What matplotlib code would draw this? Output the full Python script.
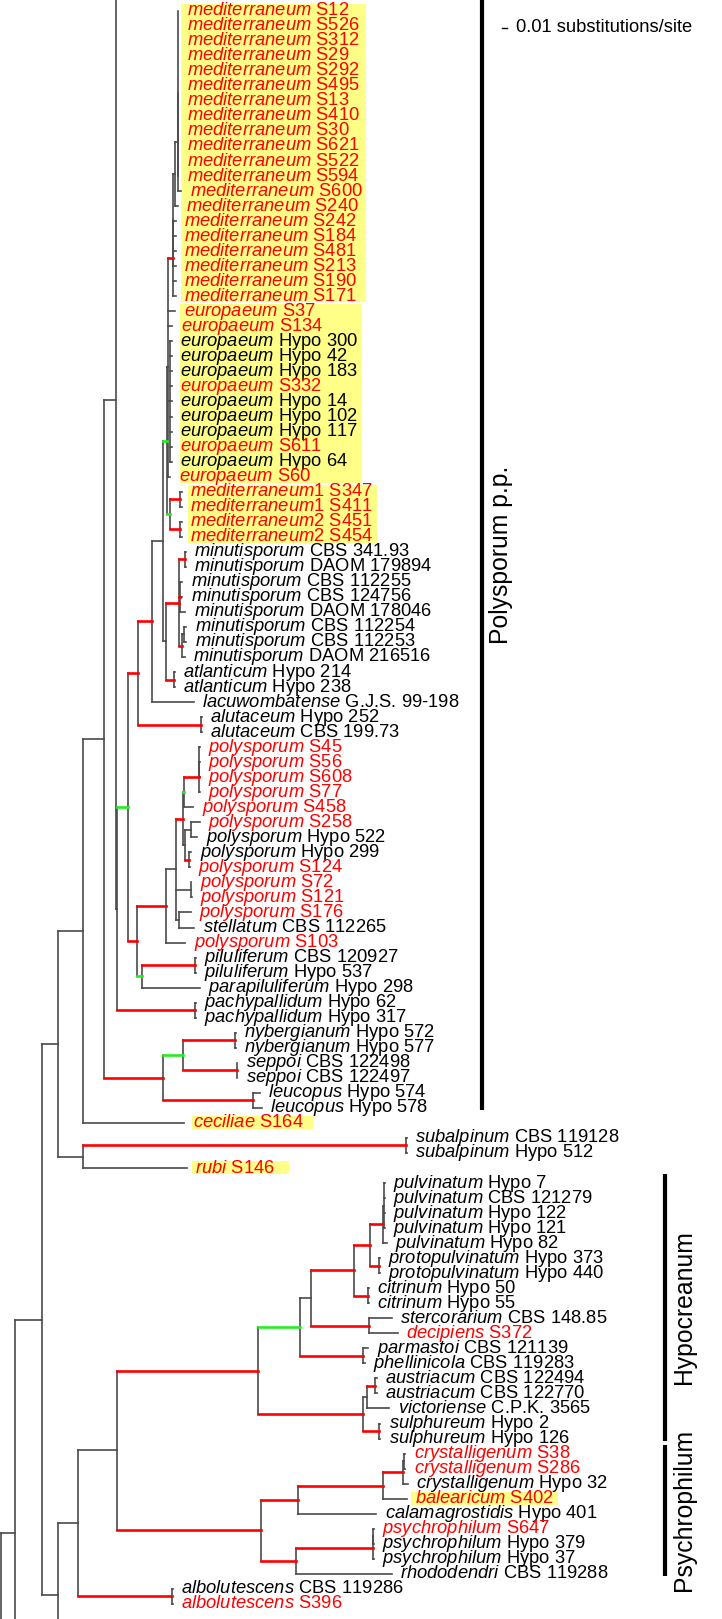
import re
import matplotlib
matplotlib.use("Agg")
import matplotlib.pyplot as plt
from matplotlib.collections import LineCollection
from matplotlib.patches import Rectangle

plt.rcParams["font.family"] = ["Liberation Sans", "DejaVu Sans"]
plt.rcParams["mathtext.fontset"] = "custom"
plt.rcParams["mathtext.rm"] = "Liberation Sans"
plt.rcParams["mathtext.it"] = "Liberation Sans:italic"

# --- leaves, top to bottom ---
SPECIES = (["mediterraneum"] * 20 + ["europaeum"] * 12 + ["mediterraneum1"] * 2
           + ["mediterraneum2"] * 2 + ["minutisporum"] * 8 + ["atlanticum"] * 2
           + ["lacuwombatense"] + ["alutaceum"] * 2 + ["polysporum"] * 12
           + ["stellatum", "polysporum"] + ["piluliferum"] * 2 + ["parapiluliferum"]
           + ["pachypallidum"] * 2 + ["nybergianum"] * 2 + ["seppoi"] * 2
           + ["leucopus"] * 2 + ["ceciliae"] + ["subalpinum"] * 2 + ["rubi"]
           + ["pulvinatum"] * 5 + ["protopulvinatum"] * 2 + ["citrinum"] * 2
           + ["stercorarium", "decipiens", "parmastoi", "phellinicola"]
           + ["austriacum"] * 2 + ["victoriense"] + ["sulphureum"] * 2
           + ["crystalligenum"] * 3 + ["balearicum", "calamagrostidis"]
           + ["psychrophilum"] * 3 + ["rhododendri"] + ["albolutescens"] * 2)

STRAINS = ["S12", "S526", "S312", "S29", "S292", "S495", "S13", "S410", "S30", "S621",
           "S522", "S594", "S600", "S240", "S242", "S184", "S481", "S213", "S190", "S171",
           "S37", "S134", "Hypo 300", "Hypo 42", "Hypo 183", "S332", "Hypo 14", "Hypo 102",
           "Hypo 117", "S611", "Hypo 64", "S60",
           "S347", "S411", "S451", "S454",
           "CBS 341.93", "DAOM 179894", "CBS 112255", "CBS 124756", "DAOM 178046",
           "CBS 112254", "CBS 112253", "DAOM 216516",
           "Hypo 214", "Hypo 238", "G.J.S. 99-198", "Hypo 252", "CBS 199.73",
           "S45", "S56", "S608", "S77", "S458", "S258", "Hypo 522", "Hypo 299", "S124",
           "S72", "S121", "S176", "CBS 112265", "S103",
           "CBS 120927", "Hypo 537", "Hypo 298", "Hypo 62", "Hypo 317", "Hypo 572",
           "Hypo 577", "CBS 122498", "CBS 122497", "Hypo 574", "Hypo 578", "S164",
           "CBS 119128", "Hypo 512", "S146",
           "Hypo 7", "CBS 121279", "Hypo 122", "Hypo 121", "Hypo 82", "Hypo 373",
           "Hypo 440", "Hypo 50", "Hypo 55", "CBS 148.85", "S372", "CBS 121139",
           "CBS 119283", "CBS 122494", "CBS 122770", "C.P.K. 3565", "Hypo 2", "Hypo 126",
           "S38", "S286", "Hypo 32", "S402", "Hypo 401", "S647", "Hypo 379", "Hypo 37",
           "CBS 119288", "CBS 119286", "S396"]

# --- internal branches: parent, child, length (1 unit = 0.002 subst./site), support colour ---
BRANCHES = [
    ("R", "A1", 14.5, "k"), ("R", "out3", 20, "k"),
    ("A1", "A2", 26.7, "k"), ("A1", "out2", 20, "k"),
    ("A2", "B1", 16.6, "k"), ("A2", "C1", 16.6, "k"),
    ("C1", "D1", 20, "k"), ("C1", "out1", 20, "k"),
    ("D1", "E1", 38.4, "k"), ("D1", "albo", 93.4, "r"),
    ("E1", "H1", 141.6, "r"), ("E1", "P1", 144.3, "r"),
    ("H1", "H2", 41.7, "g"), ("H1", "H3", 104.4, "r"),
    ("H2", "H4", 10.7, "k"), ("H2", "pp", 62.7, "r"),
    ("H4", "H5", 43.3, "r"), ("H4", "sd", 58, "r"),
    ("H5", "H6", 16, "r"), ("H5", "cit", 14.3, "r"),
    ("H6", "Q", 12.7, "r"), ("H6", "proto", 9.3, "r"),
    ("Q", "Q2", 0.8, "k"),
    ("H3", "AV", 4, "k"), ("H3", "sulph", 16.6, "r"),
    ("AV", "aus", 8.6, "r"),
    ("P1", "P2", 37.3, "r"), ("P1", "P3", 35, "r"),
    ("P2", "P4", 85, "r"), ("P4", "cr", 20, "r"), ("cr", "crA", 0.2, "k"),
    ("P3", "psy", 76.7, "r"), ("psy", "psyA", 0.1, "k"),
    ("B1", "B2", 25, "k"), ("B1", "B3", 25, "k"),
    ("B3", "subalp", 322.7, "r"),
    ("B2", "B4", 20.7, "k"),
    ("B4", "B5", 12, "k"), ("B4", "N1", 59.3, "r"),
    ("N1", "N2", 19.4, "g"), ("N1", "leuc", 90, "r"),
    ("N2", "nyb", 52.3, "r"), ("N2", "sepp", 54, "r"),
    ("B5", "top", 20, "k"), ("B5", "B6", 1.3, "k"),
    ("B6", "B7", 11, "g"), ("B6", "pachy", 77.7, "r"),
    ("B7", "B8", 10, "r"), ("B7", "B9", 9, "r"),
    ("B9", "B10", 28.7, "r"), ("B9", "B11", 4.4, "g"),
    ("B11", "pilu", 53.3, "r"),
    ("B10", "B12", 10, "k"),
    ("B12", "B13", 6.7, "r"), ("B12", "n59", 14.7, "k"), ("B12", "n61", 2.7, "k"),
    ("B13", "B15", 1.6, "g"), ("B13", "B16", 2.3, "k"),
    ("B15", "n50", 15.2, "r"), ("n50", "n50b", 0, "k"),
    ("B16", "n55", 5.7, "k"), ("B16", "n57", 4, "r"),
    ("B8", "B17", 13.4, "r"), ("B8", "alut", 62.4, "r"),
    ("B17", "B18", 11.6, "k"),
    ("B18", "E", 3.4, "g"), ("B18", "B19", 2.4, "k"),
    ("B19", "M", 13.3, "r"), ("B19", "atl", 8.6, "r"),
    ("M", "m12", 6, "r"), ("M", "m345", 1, "r"), ("M", "m678", 3.3, "r"),
    ("m678", "m67", 2, "k"),
    ("E", "E2", 1, "k"), ("E", "Med12", 3.3, "g"),
    ("Med12", "med1", 10, "r"), ("Med12", "med2", 10, "r"),
    ("E2", "Mc", 5.6, "r"), ("E2", "Hg", 2.3, "k"),
    ("Mc", "McA", 0, "k"), ("McA", "Mc2", 1.7, "k"), ("Mc2", "Mc3", 2.7, "k"),
    ("Mc3", "Mc4", 0, "k"),
]

# --- terminal branches: parent, first leaf, last leaf (1-based), length ---
TIPS = [
    ("Mc4", 1, 12, 0.5), ("Mc3", 13, 13, 3.3), ("Mc2", 14, 14, 3), ("McA", 15, 18, 2.7),
    ("Mc", 19, 20, 2.7), ("E2", 21, 21, 7.3), ("E2", 22, 22, 4.6), ("Hg", 23, 31, 1.5),
    ("E2", 32, 32, 2.3), ("med1", 33, 34, 1.5), ("med2", 35, 36, 1.5),
    ("m12", 37, 38, 0.5), ("m345", 39, 40, 2), ("m345", 41, 41, 5), ("m67", 42, 43, 1.7),
    ("m678", 44, 44, 2.2), ("atl", 45, 46, 0.5), ("B17", 47, 47, 42.3), ("alut", 48, 49, 0.8),
    ("n50b", 50, 52, 0.5), ("n50", 53, 53, 0.5), ("B15", 54, 54, 9),
    ("n55", 55, 55, 9.3), ("n55", 56, 56, 6.3), ("n57", 57, 57, 2), ("n57", 58, 58, 1),
    ("n59", 59, 59, 0.3), ("n59", 60, 60, 1.3), ("n61", 61, 61, 12), ("n61", 62, 62, 15.6),
    ("B10", 63, 63, 19), ("pilu", 64, 65, 0.5), ("B11", 66, 66, 58.3), ("pachy", 67, 68, 0.5),
    ("nyb", 69, 70, 0.5), ("sepp", 71, 72, 0.5), ("leuc", 73, 73, 6.7), ("leuc", 74, 74, 8.4),
    ("B2", 75, 75, 101), ("subalp", 76, 77, 0.5), ("B3", 78, 78, 103.4),
    ("Q2", 79, 82, 1), ("Q", 83, 83, 4), ("proto", 84, 85, 0.5), ("cit", 86, 87, 0.5),
    ("sd", 88, 88, 23), ("sd", 89, 89, 29.3), ("pp", 90, 90, 5.6), ("pp", 91, 91, 2),
    ("aus", 92, 93, 1.2), ("AV", 94, 94, 22.6), ("sulph", 95, 96, 0.7),
    ("crA", 97, 98, 1.5), ("cr", 99, 99, 4.7), ("P4", 100, 100, 23.4), ("P2", 101, 101, 78),
    ("psyA", 102, 103, 0.7), ("psy", 104, 104, 0.8), ("P3", 105, 105, 95.7),
    ("albo", 106, 107, 0.8),
]

# rows of clades that continue outside the cropped view
OFFSCREEN_ROWS = {"top": -7.94, "out1": 110.2, "out2": 115.5, "out3": 130.0}

# highlighted isolates (first leaf, last leaf, box left, box right)
HIGHLIGHTS = [(1, 20, 181, 366), (21, 32, 180, 362), (33, 36, 187.7, 377),
              (75, 75, 191.7, 312.7), (78, 78, 191.7, 289.3), (100, 100, 411, 558.3)]

# clade bars (label, first leaf or None if it continues above, last leaf)
CLADES = [("Polysporum p.p.", None, 74), ("Hypocreanum", 79, 96), ("Psychrophilum", 97, 105)]

# --- layout ---
W, H = 722, 1619
ROW0_PX, ROW_PX = 10.7, 15.03
ROOT_X = 0.5
LABEL_GAP = 8.5
FS = 13.2
COLORS = {"k": "#4a4a4a", "r": "#ff0000", "g": "#22ee22"}
WIDTHS = {"k": 1.2, "r": 1.9, "g": 1.9}

children = {}
length = {}
colour = {}
for p, c, bl, col in BRANCHES:
    children.setdefault(p, []).append(c)
    length[c], colour[c] = bl, col
for p, a, b, bl in TIPS:
    for i in range(a, b + 1):
        children.setdefault(p, []).append(i)
        length[i], colour[i] = bl, "k"

xpos, ypos = {}, {}


def place(node, x):
    xpos[node] = x
    if isinstance(node, int):
        ypos[node] = node - 1
    elif node in OFFSCREEN_ROWS:
        ypos[node] = OFFSCREEN_ROWS[node]
    else:
        ys = [place(c, x + length[c]) for c in children[node]]
        ypos[node] = (min(ys) + max(ys)) / 2
    return ypos[node]


place("R", ROOT_X)

fig = plt.figure(figsize=(W / 100, H / 100), dpi=100)
ax = fig.add_axes([0, 0, 1, 1])
ax.set_xlim(0, W)
ax.set_ylim((H - ROW0_PX) / ROW_PX, -ROW0_PX / ROW_PX)
ax.axis("off")

# highlight boxes
for a, b, x0, x1 in HIGHLIGHTS:
    ax.add_patch(Rectangle((x0, a - 1 - 0.47), x1 - x0, b - a + 0.87,
                           facecolor="#ffff88", edgecolor="none", zorder=0))

# verticals
vert = []
for node, kids in children.items():
    ys = [ypos[k] for k in kids]
    vert.append([(xpos[node], min(ys)), (xpos[node], max(ys))])
ax.add_collection(LineCollection(vert, colors=COLORS["k"], linewidths=WIDTHS["k"],
                                 capstyle="projecting", zorder=2))

# horizontals, coloured ones on top
for code, z in (("k", 2), ("g", 3), ("r", 3)):
    segs = []
    for node, kids in children.items():
        for k in kids:
            if colour[k] == code:
                segs.append([(xpos[node], ypos[k]), (xpos[k], ypos[k])])
    ax.add_collection(LineCollection(segs, colors=COLORS[code], linewidths=WIDTHS[code],
                                     capstyle="projecting", zorder=z))

# tip labels
for i, (sp, st) in enumerate(zip(SPECIES, STRAINS), start=1):
    col = "#ff0000" if re.fullmatch(r"S\d+", st) else "black"
    ax.text(xpos[i] + LABEL_GAP, ypos[i], rf"$\mathit{{{sp}}}$ {st}", color=col,
            fontsize=FS, va="center", ha="left", zorder=4)

# clade bars
y_top = -ROW0_PX / ROW_PX
bar_x = {"Polysporum p.p.": 481.7}
for name, a, b in CLADES:
    y0 = y_top - 1 if a is None else a - 1 - 0.6
    y1 = b - 1 + 0.15
    x = bar_x.get(name, 665)
    ax.plot([x, x], [y0, y1], color="black", lw=3, solid_capstyle="butt")
    yc = (max(y0, y_top) + y1) / 2
    ax.text(x + 19 if a is None else x + 18.5, yc, name, rotation=90, fontsize=17.8,
            ha="center", va="center")

# scale bar
sb_row = (28 - ROW0_PX) / ROW_PX
ax.plot([502, 507], [sb_row, sb_row], color="black", lw=1)
ax.text(516, sb_row, "0.01 substitutions/site", fontsize=FS, va="center", ha="left")

fig.savefig("out.png", dpi=100)
